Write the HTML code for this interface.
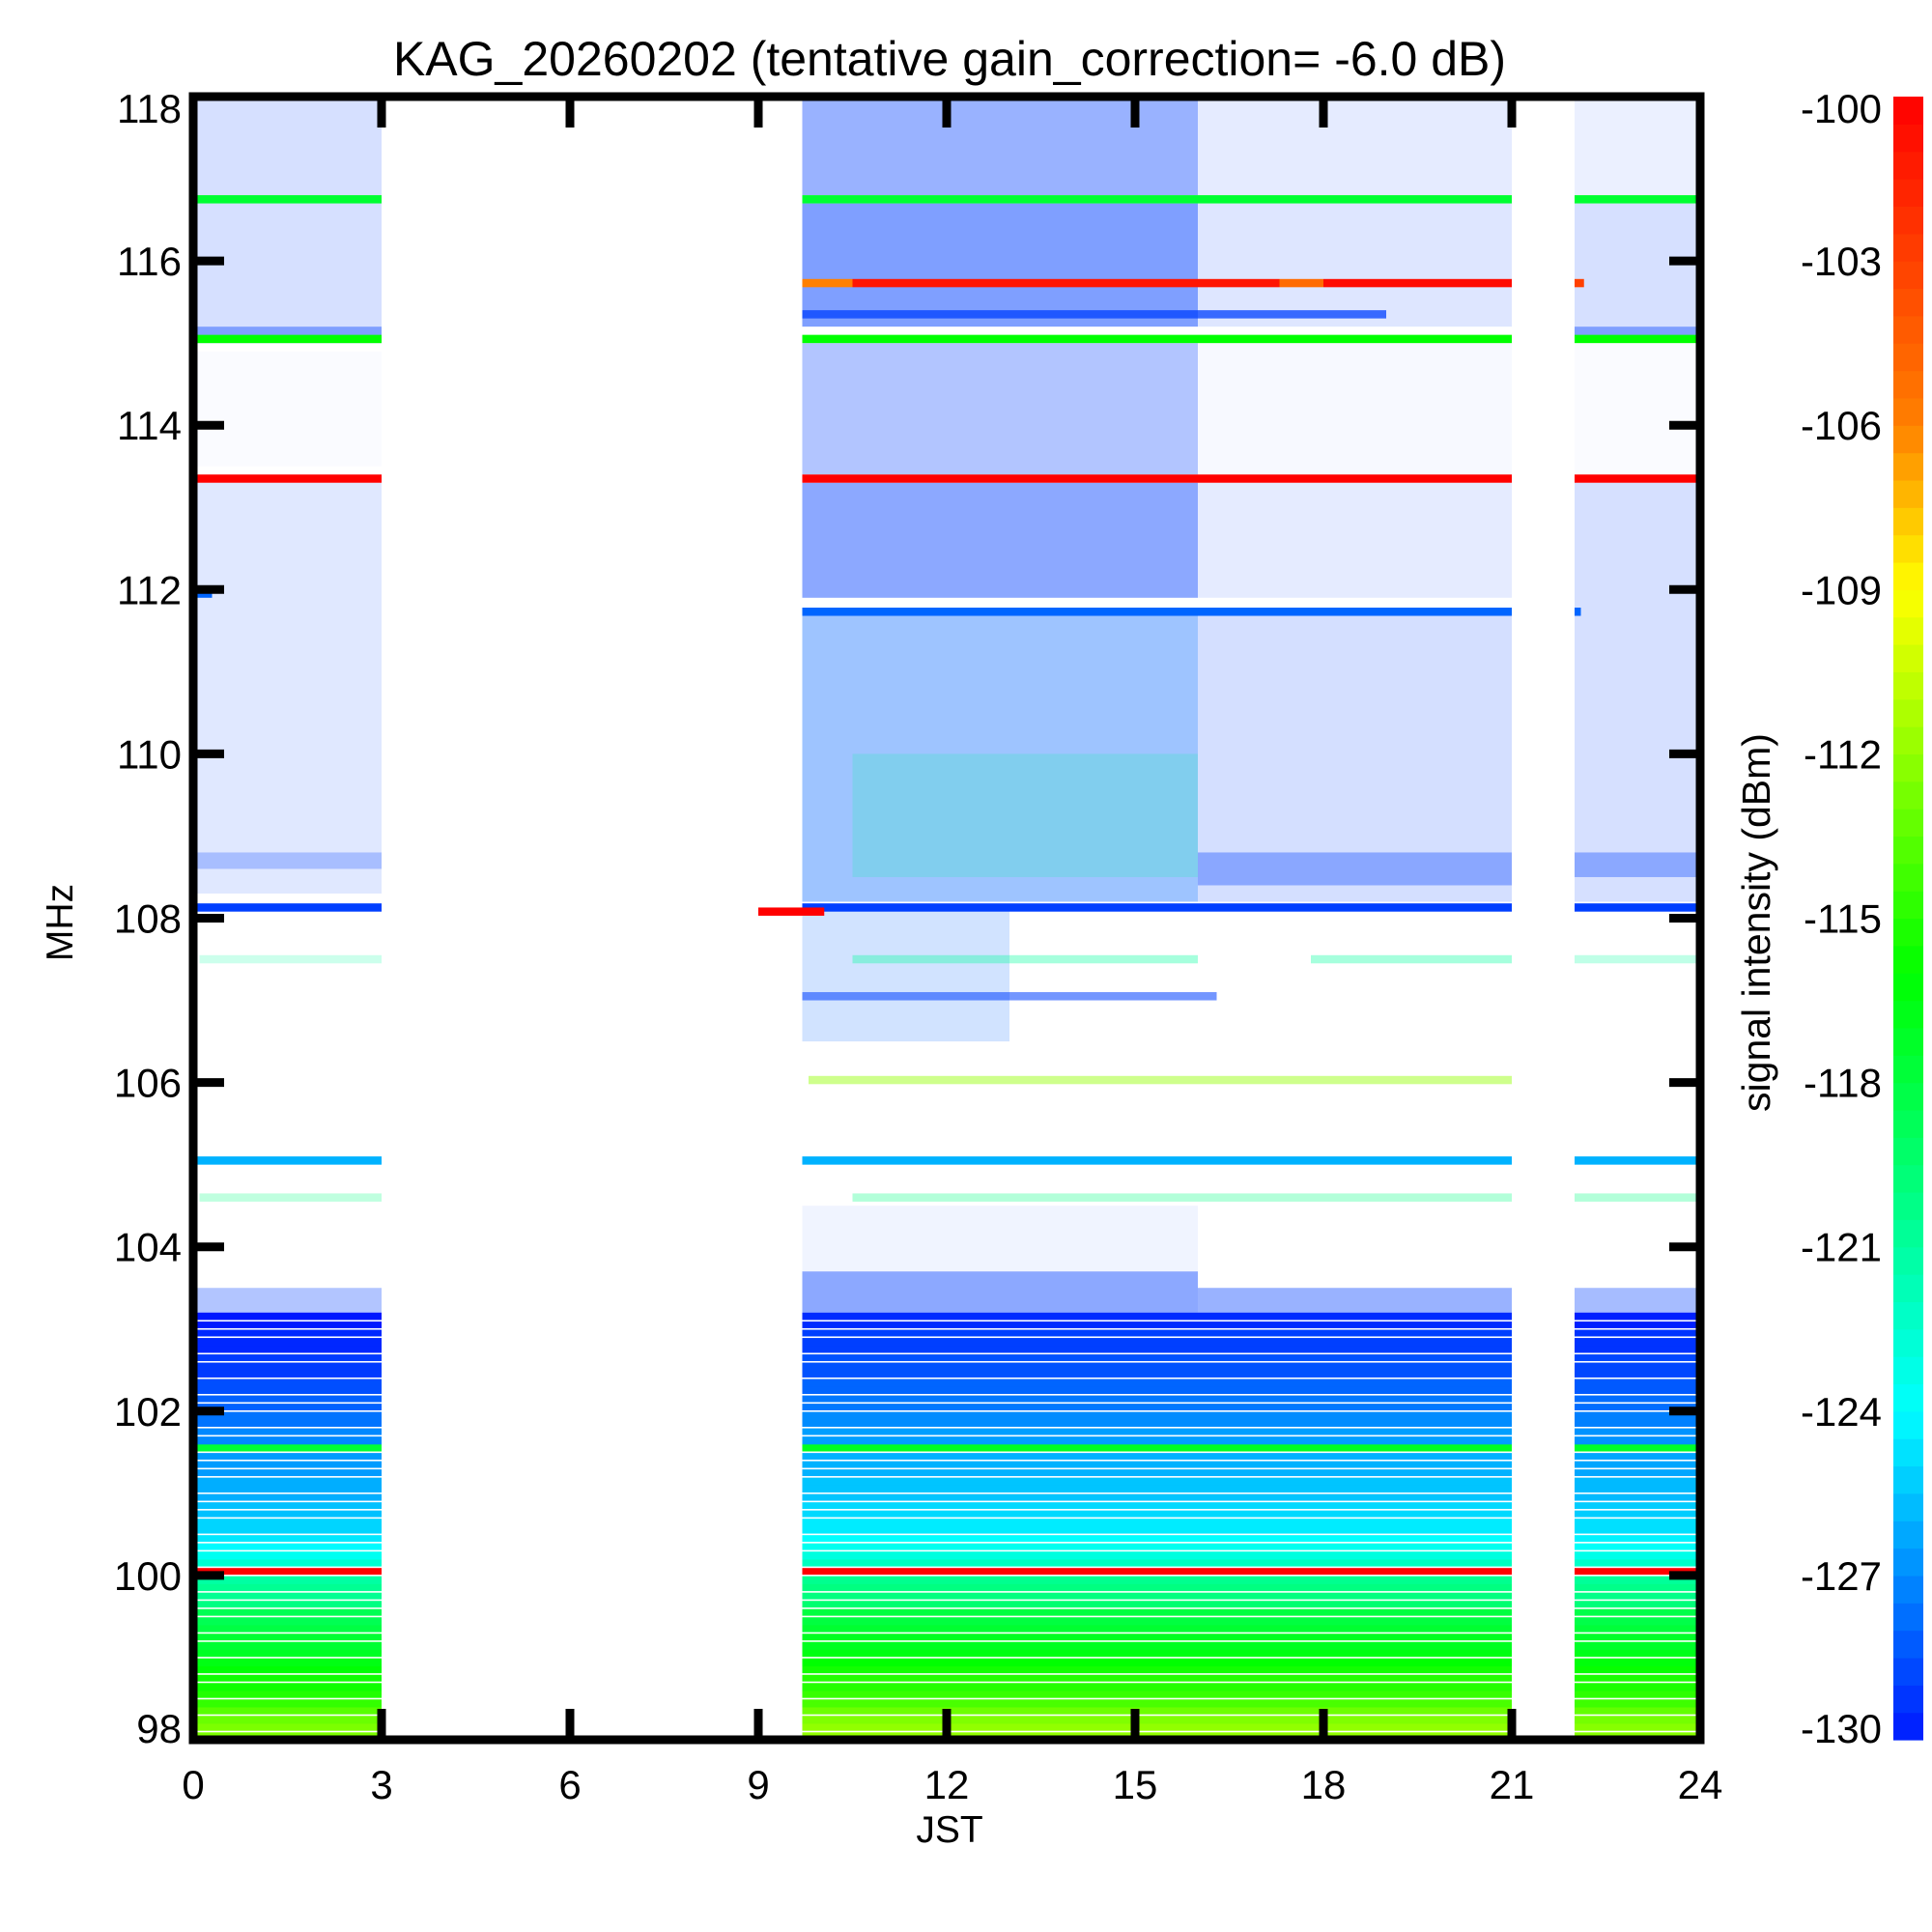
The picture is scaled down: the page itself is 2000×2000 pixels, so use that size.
<!DOCTYPE html>
<html><head><meta charset="utf-8">
<style>
html,body{margin:0;padding:0;background:#fff;}
svg{display:block;}
text{font-family:"Liberation Sans",Arial,sans-serif;fill:#000;}
</style></head>
<body>
<svg id="chart" width="2000" height="2000" viewBox="0 0 2000 2000" xmlns="http://www.w3.org/2000/svg">
<rect x="0" y="0" width="2000" height="2000" fill="#fff"/>
<text x="983" y="78" font-size="50" text-anchor="middle">KAG_20260202 (tentative gain_correction= -6.0 dB)</text>
<g id="data"></g>
<g id="axes"></g>
<text x="983" y="1907" font-size="39" text-anchor="middle">JST</text>
<text x="0" y="0" font-size="39" text-anchor="middle" transform="translate(75,955) rotate(-90)">MHz</text>
<text x="0" y="0" font-size="41" text-anchor="middle" transform="translate(1832,955) rotate(-90)">signal intensity (dBm)</text>
<g id="cbar"></g>
</svg>
<script>
// ---- data arrays ----
const timeSegments = [[0,3],[9.7,21],[22,24]];
const segmentOffsets = [-0.6, 0, -0.3];
const channelStart = 98.0;
const channelStep = 0.1;
const channelLevels = [-112,-112,-112.5,-113,
 -114,-114.5,-115,-115,-115.5,-116,
 -116.5,-117,-117,-117.5,-118,-118,
 -119.5,-120,-120,-120.5,
 -100,
 -122,
 -123,-123.5,-124,-124.5,-124.5,-125,
 -125,-125.5,-125.5,-125.5,
 -126,-126,-126,
 -117,
 -126.5,-126.5,-127,-127,
 -127.5,-127.5,-128,-128,
 -128.5,-128.5,-128.5,-129,-129,-129,
 -129.5,-129.5];
const channelGaps = [98.1,98.3,98.5,98.7,98.8,99.0,99.2,99.3,99.5,99.6,99.7,99.8,100.0,100.1,100.3,100.4,100.5,100.7,100.8,100.9,101.0,101.2,101.3,101.4,101.5,101.7,101.8,102.0,102.1,102.2,102.4,102.6,102.7,102.9,103.0,103.1];
// activity regions: [t0, t1, f0, f1, density, level]
const activityRegions = [
 [0,3,115.2,118,0.16,-129],[0,3,115.0,115.2,0.5,-129],[0,3,113.5,114.9,0.02,-129],
 [0,3,108.3,113.3,0.12,-129],[0,3,108.6,108.8,0.25,-129],[0,3,103.2,103.5,0.3,-129],
 [9.7,16,116.8,118,0.4,-129],[9.7,16,115.2,116.7,0.5,-129],[9.7,16,113.4,115.0,0.3,-129],
 [9.7,16,111.9,113.3,0.45,-129],[9.7,16,108.2,111.7,0.38,-128],[10.5,16,108.5,110,0.18,-121],
 [9.7,13,106.5,108.1,0.18,-128],[9.7,16.3,107.0,107.1,0.55,-129],
 [9.7,16,103.2,103.7,0.45,-129],[9.7,16,103.7,104.5,0.06,-129],
 [16,21,116.8,118,0.1,-129],[16,21,115.2,116.7,0.13,-129],[9.7,19,115.3,115.4,0.75,-129],
 [16,21,113.4,115.0,0.03,-129],[16,21,111.9,113.3,0.1,-129],[16,21,108.2,111.7,0.17,-129],
 [16,21,108.4,108.8,0.35,-129],[16,21,103.2,103.5,0.4,-129],
 [22,24,116.8,118,0.08,-129],[22,24,115.2,116.7,0.16,-129],[22,24,115.05,115.2,0.5,-129],
 [22,24,113.4,115,0.02,-129],[22,24,108.2,113.3,0.16,-129],[22,24,108.5,108.8,0.35,-129],
 [22,24,103.2,103.5,0.35,-129]
];
// persistent lines: [t0, t1, freq, level, opacity]
const signalLines = [
 [0,3,116.75,-117.5,1],[9.7,21,116.75,-117.5,1],[22,24,116.75,-117.5,1],
 [9.7,10.5,115.73,-106,1],[10.5,17.3,115.73,-101,1],[17.3,18,115.73,-105,1],[18,21,115.73,-100.5,1],[22,22.15,115.73,-103,1],
 [0,3,115.05,-116,1],[9.7,21,115.05,-116,1],[22,24,115.05,-116,1],
 [0,3,113.35,-100,1],[9.7,21,113.35,-100,1],[22,24,113.35,-100,1],
 [9.7,21,111.73,-128,1],[0,0.3,111.95,-128,1],[22,22.1,111.73,-128,1],
 [0,3,108.13,-129,1],[9.7,21,108.13,-129,1],[22,24,108.13,-129,1],
 [9.0,10.05,108.08,-100,1],
 [0,3,105.05,-126,1],[9.7,21,105.05,-126,1],[22,24,105.05,-126,1],
 [9.8,21,106.03,-112,0.45],
 [0.1,3,107.5,-121,0.2],[10.5,16,107.5,-121,0.35],[17.8,21,107.5,-121,0.35],[22,24,107.5,-121,0.25],
 [0.1,3,104.6,-120,0.25],[10.5,21,104.6,-120,0.3],[22,24,104.6,-120,0.3]
];
const xTicks = [0,3,6,9,12,15,18,21,24];
const yTicks = [98,100,102,104,106,108,110,112,114,116,118];
const cbarLabels = ["-130","-127","-124","-121","-118","-115","-112","-109","-106","-103","-100"];

// ---- scales ----
const X0=200, X1=1760, Y0=100, Y1=1801, FMIN=98, FMAX=118, VMIN=-130, VMAX=-100;
function xs(t){return X0+(X1-X0)*t/24;}
function ys(f){return Y1-(Y1-Y0)*(f-FMIN)/(FMAX-FMIN);}
const stops=[[-130,[0,24,255]],[-124,[0,255,255]],[-116,[0,255,0]],[-109,[255,255,0]],[-106,[255,128,0]],[-100,[255,0,0]]];
function col(v){
  if(v<=stops[0][0]) return 'rgb('+stops[0][1].join(',')+')';
  for(let i=1;i<stops.length;i++){
    if(v<=stops[i][0]){
      const a=stops[i-1],b=stops[i],k=(v-a[0])/(b[0]-a[0]);
      const c=a[1].map((q,j)=>Math.round(q+(b[1][j]-q)*k));
      return 'rgb('+c.join(',')+')';
    }
  }
  return 'rgb(255,0,0)';
}
const NS='http://www.w3.org/2000/svg';
function mk(tag,attrs,parent){const e=document.createElementNS(NS,tag);for(const k in attrs)e.setAttribute(k,attrs[k]);parent.appendChild(e);return e;}
const gD=document.getElementById('data');

timeSegments.forEach((seg,si)=>{
  const g=mk('g',{},gD);
  
  
  channelLevels.forEach((lv,ci)=>{
    const f0=channelStart+ci*channelStep, f1=f0+channelStep;
    const v = lv===-100 ? lv : lv+segmentOffsets[si];
    const r=mk('rect',{x:xs(seg[0]),y:ys(f1),width:xs(seg[1])-xs(seg[0]),height:ys(f0)-ys(f1)+0.5,fill:col(v)},g);
    
    
  });
  channelGaps.forEach(f=>{
    const r=mk('rect',{x:xs(seg[0]),y:ys(f)-0.8,width:xs(seg[1])-xs(seg[0]),height:1.6,fill:'#fff'},g);
    
    
  });
});
activityRegions.forEach(a=>{
  const r=mk('rect',{x:xs(a[0]),y:ys(a[3]),width:xs(a[1])-xs(a[0]),height:ys(a[2])-ys(a[3]),fill:col(a[5]),'fill-opacity':a[4]},gD);
  
  
});
signalLines.forEach(l=>{
  const h=ys(l[2]-0.05)-ys(l[2]+0.05);
  const r=mk('rect',{x:xs(l[0]),y:ys(l[2])-h/2,width:xs(l[1])-xs(l[0]),height:h,fill:col(l[3]),'fill-opacity':l[4]},gD);
  
  
});

const gA=document.getElementById('axes');
const frame=mk('rect',{x:X0,y:Y0,width:X1-X0,height:Y1-Y0,fill:'none',stroke:'#000','stroke-width':9},gA);


const TL=32;
xTicks.forEach(t=>{
  const x=xs(t);
  const a=mk('line',{x1:x,y1:Y1,x2:x,y2:Y1-TL,stroke:'#000','stroke-width':9},gA);
  
  
  const b=mk('line',{x1:x,y1:Y0,x2:x,y2:Y0+TL,stroke:'#000','stroke-width':9},gA);
  
  
  const tx=mk('text',{x:x,y:1862,'font-size':42,'text-anchor':'middle'},gA);
  tx.textContent=String(t);
  
  
});
yTicks.forEach((f,i)=>{
  const y=ys(f);
  const a=mk('line',{x1:X0,y1:y,x2:X0+TL,y2:y,stroke:'#000','stroke-width':9},gA);
  
  
  const b=mk('line',{x1:X1,y1:y,x2:X1-TL,y2:y,stroke:'#000','stroke-width':9},gA);
  
  
  let ly=y; if(i===0) ly=y-12; if(i===yTicks.length-1) ly=y+12;
  const tx=mk('text',{x:188,y:ly+15,'font-size':42,'text-anchor':'end'},gA);
  tx.textContent=String(f);
  
  
  const cl=mk('text',{x:1948,y:ly+15,'font-size':42,'text-anchor':'end'},document.getElementById('cbar'));
  cl.textContent=cbarLabels[i];
  
  
});
const gC=document.getElementById('cbar');
const N=60;
for(let i=0;i<N;i++){
  const v=VMIN+(VMAX-VMIN)*(i+0.5)/N;
  const h=(Y1-Y0)/N;
  const r=mk('rect',{x:1960,y:Y1-(i+1)*h,width:31,height:h+0.6,fill:col(v)},gC);
  
  
}
</script>
</body></html>
